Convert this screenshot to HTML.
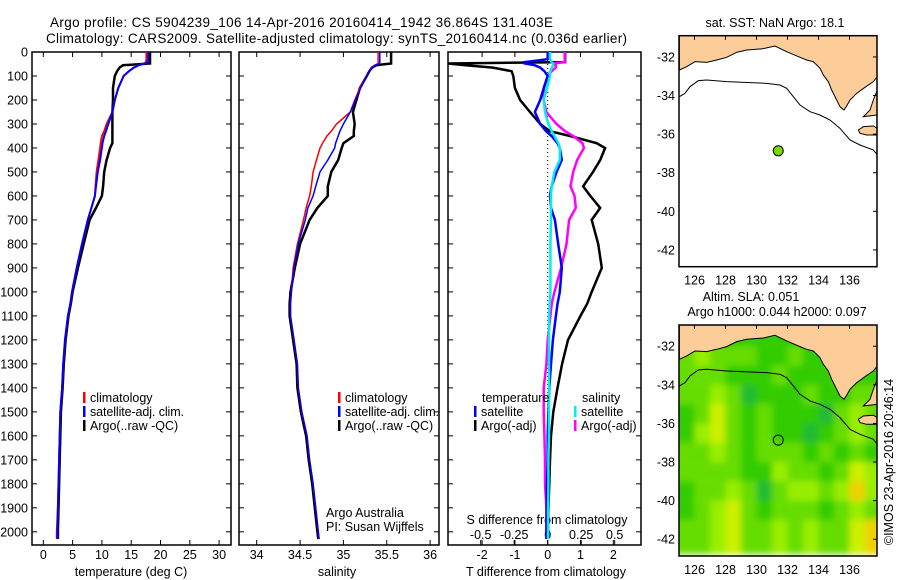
<!DOCTYPE html>
<html><head><meta charset="utf-8"><style>
body{margin:0;background:#fff}
svg{display:block;font-family:"Liberation Sans",sans-serif}
text{font-size:12.5px;fill:#000}
</style></head><body>
<svg id="s" width="900" height="580" viewBox="0 0 900 580">
<defs><filter id="blur" x="-5%" y="-5%" width="110%" height="110%"><feGaussianBlur stdDeviation="3.5"/></filter></defs>
<text x="50" y="27" style="font-size:13.5px" textLength="503">Argo profile: CS 5904239_106 14-Apr-2016 20160414_1942 36.864S 131.403E</text>
<text x="46" y="43" style="font-size:13.5px" textLength="581">Climatology: CARS2009. Satellite-adjusted climatology: synTS_20160414.nc (0.036d earlier)</text>
<g id="g"></g>
</svg>
<script>
const depths=[0,30,42,48,55,65,80,100,150,200,250,300,330,350,380,400,450,500,560,600,650,700,800,900,1000,1050,1100,1200,1300,1400,1500,1600,1700,1800,1900,2000,2030];
const tempClim=[17.6,17.6,17.5,17.2,16.2,15.4,14.6,13.7,12.8,12.2,11.8,10.8,10.4,10.0,9.8,9.7,9.4,9.1,8.9,8.8,8.2,7.6,6.6,5.7,4.9,4.6,4.2,3.7,3.4,3.2,2.9,2.8,2.7,2.6,2.5,2.3,2.3];
const tempSat=[17.9,17.9,17.8,17.4,16.3,15.5,14.6,13.7,12.8,12.2,11.8,11.1,10.7,10.4,10.1,10.0,9.7,9.3,9.0,8.8,8.2,7.6,6.6,5.7,4.9,4.6,4.2,3.7,3.4,3.2,2.9,2.8,2.7,2.6,2.5,2.4,2.4];
const tempArgo=[18.2,18.2,18.2,18.2,13.6,13.0,12.6,12.2,11.9,11.9,11.8,11.8,11.8,11.8,11.8,11.4,10.8,10.4,10.2,10.0,9.0,7.9,6.9,5.9,5.0,4.7,4.3,3.8,3.5,3.3,3.0,2.9,2.8,2.7,2.6,2.5,2.5];
const salClim=[35.40,35.40,35.40,35.40,35.36,35.32,35.30,35.27,35.19,35.13,35.08,34.92,34.86,34.81,34.76,34.73,34.69,34.65,34.63,34.61,34.57,34.54,34.47,34.42,34.40,34.39,34.39,34.43,34.47,34.48,34.52,34.58,34.61,34.65,34.68,34.71,34.72];
const salSat=[35.42,35.42,35.42,35.42,35.37,35.33,35.30,35.27,35.20,35.14,35.08,35.00,34.96,34.94,34.91,34.90,34.82,34.73,34.68,34.65,34.59,34.56,34.48,34.43,34.40,34.39,34.39,34.43,34.47,34.48,34.52,34.58,34.61,34.65,34.68,34.71,34.72];
const salArgo=[35.55,35.55,35.55,35.55,35.38,35.33,35.30,35.27,35.19,35.15,35.11,35.13,35.12,35.12,35.00,34.98,34.94,34.86,34.82,34.82,34.70,34.61,34.50,34.44,34.39,34.38,34.38,34.42,34.46,34.47,34.51,34.57,34.60,34.64,34.67,34.70,34.71];
const dTsat=[0,0,-0.7,-0.7,-0.4,-0.23,-0.1,0,-0.12,-0.23,-0.39,-0.23,-0.05,0.12,0.3,0.37,0.43,0.27,0.12,0.07,0.1,0.22,0.32,0.43,0.37,0.3,0.25,0.16,0.1,0.05,0.02,0,0,-0.02,-0.03,-0.04,-0.04];
const dTargo=[0.53,0.53,0.53,-3.04,-2.5,-1.67,-1.1,-1.05,-1.0,-0.84,-0.54,-0.23,0.07,0.68,1.49,1.75,1.6,1.38,1.08,1.3,1.6,1.34,1.54,1.65,1.34,1.2,1.0,0.62,0.44,0.3,0.17,0.1,0.07,0.05,0.02,0.01,0.01];
const dSsat=[0.017,0.017,0.03,0.04,0.04,0.03,0.02,0.017,-0.006,-0.03,-0.02,0.005,0.03,0.05,0.08,0.09,0.09,0.05,0.03,0.024,0.024,0.024,0.02,0.02,0.02,0.015,0.01,0.01,0.01,0.01,0.01,0.01,0.005,0.005,0.003,0.002,0.002];
const dSargo=[0.127,0.127,0.127,0.04,0.06,0.06,0.03,0.0,-0.03,-0.03,-0.01,0.066,0.13,0.19,0.26,0.27,0.22,0.19,0.17,0.2,0.21,0.16,0.14,0.10,0.05,0.03,0.02,0,-0.01,-0.03,-0.03,-0.025,-0.02,-0.02,-0.01,-0.01,-0.01];
const depthTicks=[0,100,200,300,400,500,600,700,800,900,1000,1100,1200,1300,1400,1500,1600,1700,1800,1900,2000];
const tempTicks=[0,5,10,15,20,25,30];
const salTicks=[34,34.5,35,35.5,36];
const salTickLabels=["34","34.5","35","35.5","36"];
const dTTicks=[-2,-1,0,1,2];
const dSTicks=[-0.5,-0.25,0,0.25,0.5];
const dSTickLabels=["-0.5","-0.25","0","0.25","0.5"];
const latTicks=[-32,-34,-36,-38,-40,-42];
const lonTicks=[126,128,130,132,134,136];
const argoLon=131.403, argoLat=-36.864;
const slaGrid=[
[1,1,1,1,1,1,1,1,1,1,1,1,1],
[2,2,1,1,1,1,1,1,1,1,1,1,1],
[2,3,2,2,2,1,1,2,1,1,1,1,1],
[2,2,2,1,1,1,2,1,1,1,2,1,1],
[2,2,3,2,0,1,1,1,2,1,1,2,2],
[1,2,4,2,1,2,1,1,1,0,2,3,2],
[1,3,4,2,1,2,1,1,0,1,2,3,2],
[2,2,3,2,1,2,2,2,1,2,1,2,1],
[2,2,2,2,1,1,3,2,2,1,2,4,3],
[1,2,2,3,2,0,2,3,3,2,3,5,3],
[1,2,3,4,2,1,2,2,2,1,2,3,2],
[2,2,3,4,2,2,3,2,3,2,2,4,5]];
const NS='http://www.w3.org/2000/svg';
const G=document.getElementById('g');
function el(tag,attrs,parent){const e=document.createElementNS(NS,tag);for(const k in attrs)e.setAttribute(k,attrs[k]);(parent||G).appendChild(e);return e;}
function txt(x,y,s,anchor,parent){const t=el('text',{x:x,y:y,'text-anchor':anchor||'start'},parent);t.textContent=s;return t;}
const yD=d=>52+d*0.2399;
const xT=t=>43.3+t*5.86, xS=s=>256.7+(s-34)*86.7, xdT=t=>547.7+t*32.8, xdS=s=>547.7+s*134;
const PT=52,PB=545;
function frame(x0,x1,name){
 const r=el('rect',{x:x0,y:PT,width:x1-x0,height:PB-PT,fill:'none',stroke:'#000','stroke-width':1.5});
 
 depthTicks.forEach(d=>{el('line',{x1:x0,x2:x0+5,y1:yD(d),y2:yD(d),stroke:'#000'});el('line',{x1:x1-5,x2:x1,y1:yD(d),y2:yD(d),stroke:'#000'});});
}
function line(xs,xf,color,w,name){
 const p=depths.map((d,i)=>(i?'L':'M')+xf(xs[i]).toFixed(1)+','+yD(d).toFixed(1)).join('');
 const e=el('path',{d:p,fill:'none',stroke:color,'stroke-width':w,'stroke-linejoin':'miter'});
 
}
frame(32,231,'temperature-panel');frame(239,439,'salinity-panel');frame(448,641,'difference-panel');
depthTicks.forEach(d=>{const t=txt(28,yD(d)+4.5,String(d),'end');});
tempTicks.forEach(v=>{const x=xT(v);el('line',{x1:x,x2:x,y1:PB,y2:PB-5,stroke:'#000'});el('line',{x1:x,x2:x,y1:PT,y2:PT+5,stroke:'#000'});const t=txt(x,559,String(v),'middle');});
salTicks.forEach((v,i)=>{const x=xS(v);el('line',{x1:x,x2:x,y1:PB,y2:PB-5,stroke:'#000'});el('line',{x1:x,x2:x,y1:PT,y2:PT+5,stroke:'#000'});const t=txt(x,559,salTickLabels[i],'middle');});
dTTicks.forEach(v=>{const x=xdT(v);el('line',{x1:x,x2:x,y1:PB,y2:PB-5,stroke:'#000'});el('line',{x1:x,x2:x,y1:PT,y2:PT+5,stroke:'#000'});const t=txt(x,559,v<0?'-'+Math.abs(v):String(v),'middle');});
dSTicks.forEach((v,i)=>{const x=xdS(v);el('line',{x1:x,x2:x,y1:PB,y2:PB-5,stroke:'#000'});const t=txt(x,539,dSTickLabels[i],'middle');});
let t;
t=txt(131,576,'temperature (deg C)','middle');
t=txt(337,576,'salinity','middle');
t=txt(546,576,'T difference from climatology','middle');
t=txt(547,524,'S difference from climatology','middle');
const z=el('line',{x1:xdT(0),x2:xdT(0),y1:PT,y2:PB,stroke:'#000','stroke-dasharray':'1,3'});

line(tempArgo,xT,'#000',2.5,'temp-argo-line');line(tempClim,xT,'#f00',2,'temp-climatology-line');line(tempSat,xT,'#00f',2,'temp-satellite-line');
line(salArgo,xS,'#000',2.5,'sal-argo-line');line(salClim,xS,'#f00',1.5,'sal-climatology-line');line(salSat,xS,'#00f',1.5,'sal-satellite-line');
line(dTargo,xdT,'#000',2.5,'tdiff-argo-line');line(dSargo,xdS,'#f0f',2.5,'sdiff-argo-line');line(dTsat,xdT,'#00f',2.5,'tdiff-satellite-line');line(dSsat,xdS,'#0ee',2.5,'sdiff-satellite-line');
function leg(bx,y,color,label,name,len){const g=el('g',{});el('rect',{x:bx,y:y-10,width:2.5,height:11,fill:color},g);const tt=txt(bx+7,y,label,'start',g);if(len)tt.setAttribute('textLength',len);}
leg(83,402,'#f00','climatology','legend-climatology');leg(83,416,'#00f','satellite-adj. clim.','legend-satellite',94);leg(83,430,'#000','Argo(..raw -QC)','legend-argo');
leg(338,402,'#f00','climatology','legend2-climatology');leg(338,416,'#00f','satellite-adj. clim.','legend2-satellite',94);leg(338,430,'#000','Argo(..raw -QC)','legend2-argo');
t=txt(482,402,'temperature');
t=txt(582,402,'salinity');
leg(474,416,'#00f','satellite','legend-t-satellite');leg(474,430,'#000','Argo(-adj)','legend-t-argo');
leg(574,416,'#0ee','satellite','legend-s-satellite');leg(574,430,'#f0f','Argo(-adj)','legend-s-argo');
t=txt(326,517,'Argo Australia');
t=txt(326,531,'PI: Susan Wijffels');
const MX0=679,MX1=877;
const lonX=lon=>MX0+(lon-125)*15.5;
function drawMap(top,name,withSla){
 const latY=lat=>top+(-30.9-lat)*19.3;
 const mg=el('g',{});
 const cp=el('clipPath',{id:'c'+name},mg);el('rect',{x:MX0,y:top,width:MX1-MX0,height:231},cp);
 const inner=el('g',{'clip-path':'url(#c'+name+')'},mg);
 el('rect',{x:MX0,y:top,width:MX1-MX0,height:231,fill:'#fff'},inner);
 if(withSla){const cols=['#22bb33','#33cc00','#66dd00','#99ee00','#ccf000','#f0d000'];
  const hg=el('g',{filter:'url(#blur)'},inner);
  slaGrid.forEach((row,r)=>row.forEach((v,c)=>{const x=lonX(125+c),y=latY(-31-r);const q=el('rect',{x:x-(c===0?15:0),y:y-19.3,width:15.6+(c===0?15:0)+(c===12?15:0),height:19.4+(r===11?15:0),fill:cols[v]},hg);}));}
 const lg=el('g',{transform:'translate(640,'+(top-35.7)+') scale(0.33333)'},inner);
 el('path',{d:'M118,100 L118,210 L140,200 L165,185 L200,187 L230,180 L260,172 L290,157 L320,150 L370,146 L405,138 L440,155 L480,172 L500,180 L520,185 L540,205 L550,225 L565,245 L575,270 L590,300 L600,320 L612,330 L620,318 L630,300 L650,280 L675,262 L700,245 L712,230 L712,100 Z M712,270 L700,300 L690,330 L670,350 L712,345 Z M655,390 L670,380 L700,378 L712,385 L712,405 L680,405 L660,400 Z',fill:'#fccc99',stroke:'#000','stroke-width':3},lg);
 el('path',{d:'M118,290 L135,280 L150,260 L175,242 L200,240 L260,245 L330,248 L380,250 L420,255 L440,265 L460,290 L480,315 L510,335 L540,345 L570,360 L600,385 L630,420 L660,435 L700,450 L712,465',fill:'none',stroke:'#000','stroke-width':3},lg);
 el('rect',{x:MX0,y:top,width:MX1-MX0,height:231,fill:'none',stroke:'#000','stroke-width':1.5},mg);
 latTicks.forEach(v=>{const y=latY(v);el('line',{x1:MX1,x2:MX1-4,y1:y,y2:y,stroke:'#000'},mg);const tt=txt(675,y+4.5,String(v),'end',mg);});
 lonTicks.forEach(v=>{const x=lonX(v);el('line',{x1:x,x2:x,y1:top,y2:top+4,stroke:'#000'},mg);const tt=txt(x,top+249,String(v),'middle',mg);});
 const c=el('circle',{cx:lonX(argoLon),cy:latY(argoLat),r:5,fill:withSla?'none':'#77dd00',stroke:'#000','stroke-width':1},mg);
 
}
drawMap(35.7,'sst-map',false);drawMap(325,'sla-map',true);
t=txt(775,27,'sat. SST: NaN Argo: 18.1','middle');
t=txt(751,301,'Altim. SLA: 0.051','middle');
t=txt(777,316,'Argo h1000: 0.044 h2000: 0.097','middle');
t=txt(0,0,'©IMOS 23-Apr-2016 20:46:14','middle');t.setAttribute('transform','translate(893,462) rotate(-90)');
</script>
</body></html>
